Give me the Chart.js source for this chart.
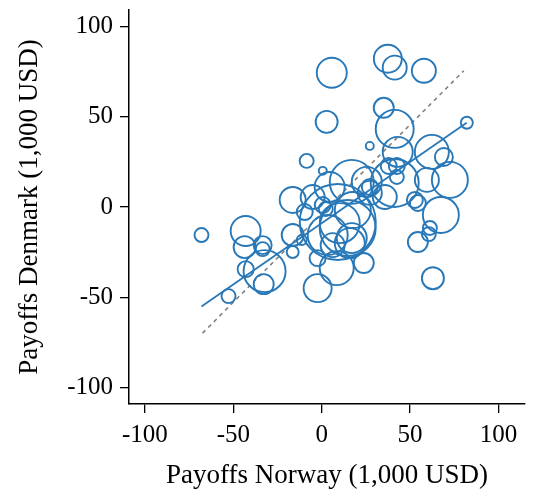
<!DOCTYPE html>
<html lang="en">
<head>
    <meta charset="UTF-8">
    <title>Payoffs Norway vs Denmark</title>
    <style>
        body {
            margin: 0;
            background: #fff;
        }

        #chart-container {
            width: 534px;
            height: 495px;
        }
    </style>
</head>
<body>
    <div id="chart-container">
        <canvas id="payoff-chart" width="534" height="495"></canvas>
    </div>

    <script src="https://cdn.jsdelivr.net/npm/chart.js"></script>
    <script>
        // payoffs in 1,000 USD, one entry per circle
        const payoffNorway = [
            -68, -43, -43.6, -33.4, -33.4, -43, -32.3, -32.8, -52.7, -16.4,
            -5.1, -16.4, -16.4, -11.3, -2.3, -2.3, 8.5, 23.8, 62.9, 5.7,
            2.8, -8.5, 0.6, 37.4, 41.3, 57.8, 35.1, 41.3, 27.2, 43.0,
            62.3, 69.1, 82.1, 37.9, 42.5, 42.5, 59.5, 72.5, 17.0, 25.5,
            4.5, 41.3, 52.7, 54.4, 67.4, 61.2, 60.6, 54.4, 9.1, 10.2,
            17.6, 27.2, 27.2, 0.6, 2.3, 15.9, 6.2, 17.0, 14.7, -9.6,
            3.4, 35.7
        ];
        const payoffDenmark = [
            -15.5, -13.3, -22.2, -21.1, -23.3, -34.4, -35.5, -42.7, -49.3, 3.9,
            5.5, -15.5, -24.9, -18.3, -28.3, -44.9, -33.8, -31.0, -39.4, 74.3,
            47.1, 25.5, 20.0, 82.0, 77.1, 75.4, 54.9, 43.2, 33.8, 30.5,
            30.5, 27.7, 46.6, 22.7, 22.7, 16.6, 15.0, 15.0, 13.9, 13.9,
            11.1, 13.3, 3.9, 2.2, -4.4, -11.6, -15.0, -19.4, -8.3, -8.9,
            -1.7, 7.8, 11.1, 1.1, -1.1, -20.0, -21.1, -17.2, -11.6, -2.8,
            -15.5, 5.5
        ];
        // circle weight (drawn as radius)
        const weight = [
            7, 15, 11, 9, 7, 8, 21, 10, 7, 13,
            12, 11, 6, 5, 8, 14, 17, 10, 11, 15,
            11, 7, 4, 14, 12, 12, 10, 19, 4, 15,
            17, 9, 6, 8, 8, 7, 12, 18, 22, 15,
            15, 24, 8, 8, 18, 7, 7, 10, 38, 20,
            18, 12, 8, 8, 7, 15, 12, 15, 28, 8,
            20, 12
        ];

        const fitX = [-68, 82];
        const fitY = [-55, 46.6];
        const diagX = [-67.4, 80.4];
        const diagY = [-69.8, 75.4];

        const xTicks = [-100, -50, 0, 50, 100];
        const yTicks = [-100, -50, 0, 50, 100];

        const blue = '#2878b8';
        const serif = "'Liberation Serif', 'DejaVu Serif', serif";

        const bubbles = payoffNorway.map((x, i) => ({ x: x, y: payoffDenmark[i], r: weight[i] }));
        const fitLine = fitX.map((x, i) => ({ x: x, y: fitY[i] }));
        const diagLine = diagX.map((x, i) => ({ x: x, y: diagY[i] }));

        const axisStyle = {
            grid: { drawOnChartArea: false, drawTicks: true, tickLength: 9, color: '#000', lineWidth: 1.3 },
            border: { display: true, color: '#000', width: 1.5 }
        };

        function noPadding(scale) {
            scale.paddingLeft = 0;
            scale.paddingRight = 0;
            scale.paddingTop = 0;
            scale.paddingBottom = 0;
        }

        const ctx = document.getElementById('payoff-chart').getContext('2d');
        new Chart(ctx, {
            type: 'bubble',
            data: {
                datasets: [
                    {
                        type: 'bubble',
                        data: bubbles,
                        backgroundColor: 'rgba(0,0,0,0)',
                        borderColor: blue,
                        borderWidth: 1.9,
                        clip: false
                    },
                    {
                        type: 'scatter',
                        data: fitLine,
                        showLine: true,
                        borderColor: blue,
                        borderWidth: 1.8,
                        pointRadius: 0
                    },
                    {
                        type: 'scatter',
                        data: diagLine,
                        showLine: true,
                        borderColor: '#808080',
                        borderWidth: 1.6,
                        borderDash: [4, 4],
                        pointRadius: 0
                    }
                ]
            },
            options: {
                responsive: false,
                animation: false,
                layout: { autoPadding: false, padding: { left: 0, right: 9, top: 10, bottom: 0 } },
                plugins: {
                    legend: { display: false },
                    tooltip: { enabled: false }
                },
                scales: {
                    x: {
                        type: 'linear',
                        min: -109,
                        max: 115,
                        ...axisStyle,
                        afterBuildTicks: scale => { scale.ticks = xTicks.map(v => ({ value: v })); },
                        afterFit: scale => { scale.height = 91; noPadding(scale); },
                        ticks: { color: '#000', font: { family: serif, size: 25 }, padding: 7, maxRotation: 0 },
                        title: {
                            display: true,
                            text: 'Payoffs Norway (1,000 USD)',
                            color: '#000',
                            font: { family: serif, size: 27 },
                            padding: { top: 0, bottom: 3 }
                        }
                    },
                    y: {
                        type: 'linear',
                        min: -109,
                        max: 109,
                        ...axisStyle,
                        afterBuildTicks: scale => { scale.ticks = yTicks.map(v => ({ value: v })); },
                        afterFit: scale => { scale.width = 129; noPadding(scale); },
                        ticks: { color: '#000', font: { family: serif, size: 25 }, padding: 7 },
                        title: {
                            display: true,
                            text: 'Payoffs Denmark (1,000 USD)',
                            color: '#000',
                            font: { family: serif, size: 27 },
                            padding: { top: 14, bottom: 0 }
                        }
                    }
                }
            }
        });
    </script>
</body>
</html>
